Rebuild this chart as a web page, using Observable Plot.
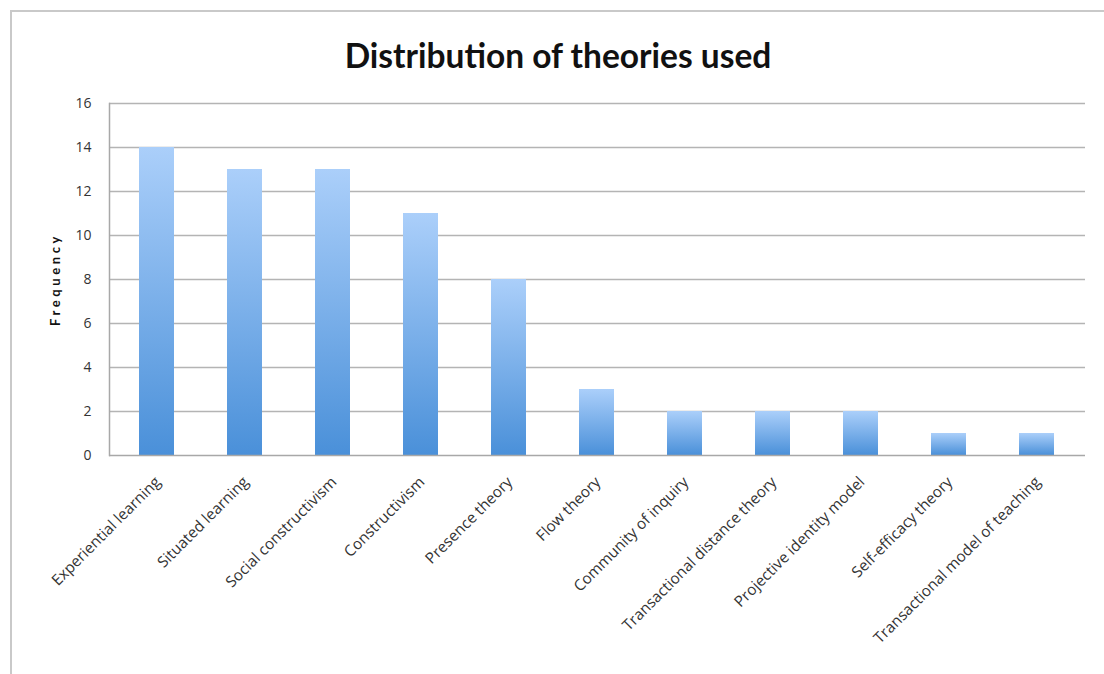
<!DOCTYPE html>
<html>
<head>
<meta charset="utf-8">
<script src="https://cdn.jsdelivr.net/npm/d3@7"></script>
<script src="https://cdn.jsdelivr.net/npm/@observablehq/plot@0.6"></script>
<style>
  html, body { margin: 0; padding: 0; background: #fff; }
  #frame {
    position: absolute; left: 10px; top: 10px; width: 1094px; height: 664px;
    border-left: 2px solid #c9c9c9; border-top: 2px solid #c9c9c9;
    box-sizing: border-box; overflow: hidden;
  }
  #title {
    height: 68px; line-height: 86px; text-align: center;
    font-family: Lato, "Open Sans", sans-serif; font-weight: bold; font-size: 33.5px; color: #111;
  }
  #chart svg g[aria-label="text"] text { letter-spacing: 3.6px; }
</style>
</head>
<body>
<div id="frame">
  <div id="title">Distribution of theories used</div>
  <div id="chart"></div>
</div>
<script>
const theories = [
  "Experiential learning", "Situated learning", "Social constructivism", "Constructivism",
  "Presence theory", "Flow theory", "Community of inquiry", "Transactional distance theory",
  "Projective identity model", "Self-efficacy theory", "Transactional model of teaching"
];
const frequency = [14, 13, 13, 11, 8, 3, 2, 2, 2, 1, 1];
const yTicks = [0, 2, 4, 6, 8, 10, 12, 14, 16];
const gridTicks = [2, 4, 6, 8, 10, 12, 14, 16];

const data = theories.map((t, i) => ({theory: t, value: frequency[i]}));

function gradientDefs() {
  const defs = d3.create("svg:defs");
  const g = defs.append("linearGradient").attr("id", "barGrad")
    .attr("x1", 0).attr("y1", 0).attr("x2", 0).attr("y2", 1);
  g.append("stop").attr("offset", "0%").attr("stop-color", "#abcffa");
  g.append("stop").attr("offset", "100%").attr("stop-color", "#4a90d9");
  return defs.node();
}

const chart = Plot.plot({
  width: 1092,
  height: 594,
  marginTop: 23,
  marginBottom: 219,
  marginLeft: 97,
  marginRight: 19,
  style: {fontFamily: "'Open Sans', Lato, sans-serif", background: "#fff"},
  x: {domain: theories, paddingInner: 0.6, paddingOuter: 0.3, label: null},
  y: {domain: [0, 16], label: null},
  marks: [
    gradientDefs,
    Plot.ruleY(gridTicks, {stroke: "#b4b4b4", strokeWidth: 1.5}),
    Plot.barY(data, {x: "theory", y: "value", fill: "url(#barGrad)"}),
    Plot.ruleY([0], {stroke: "#a8a8a8", strokeWidth: 1.5}),
    Plot.axisY({ticks: yTicks, tickSize: 0, tickPadding: 18, fontSize: 14, color: "#333", label: null}),
    Plot.axisX({tickSize: 0, tickPadding: 24, dx: 1, tickRotate: -45, fontSize: 15.3, color: "#333", label: null}),
    Plot.text(["Frequency"], {frameAnchor: "left", dx: -54, dy: 0, rotate: -90, fontSize: 13, fontWeight: "bold", fill: "#111", textAnchor: "middle", fontFamily: "Lato, sans-serif"}),
    Plot.frame({anchor: "left", stroke: "#a8a8a8", strokeWidth: 1.5})
  ]
});
document.getElementById("chart").appendChild(chart);
</script>
</body>
</html>
